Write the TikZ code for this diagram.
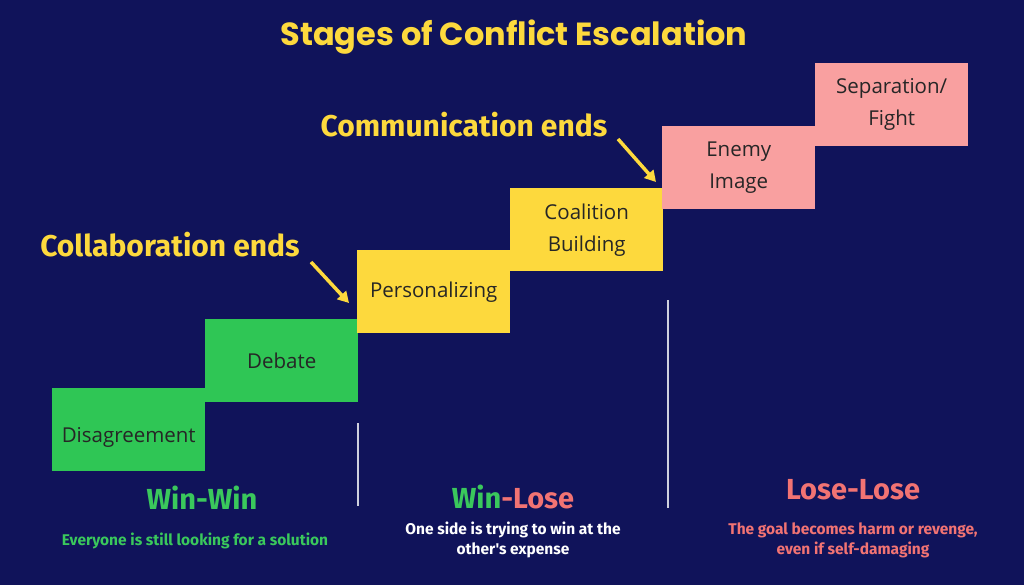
\documentclass[tikz,border=0pt]{standalone}
\usepackage{fontspec}
\setmainfont{Open Sans}
\newfontfamily\titlefont{Poppins}
\newfontfamily\headfont{Fira Sans}
\usetikzlibrary{arrows.meta,positioning}
\definecolor{navy}{HTML}{10135A}
\definecolor{stgreen}{HTML}{2FC655}
\definecolor{styellow}{HTML}{FDD93D}
\definecolor{stpink}{HTML}{F9A0A0}
\definecolor{txtgreen}{HTML}{3AC85C}
\definecolor{txtpink}{HTML}{F27373}
\tikzset{
  stage/.style={anchor=north west,minimum width=153pt,minimum height=83pt,inner sep=0pt,
    align=center,font=\fontsize{20.5}{32}\selectfont,text=black!85},
  headline/.style={font=\headfont\bfseries\fontsize{30}{32}\selectfont,text=styellow},
  outcome/.style={font=\headfont\bfseries\fontsize{29}{30}\selectfont},
  note/.style={font=\headfont\bfseries\fontsize{15.5}{20}\selectfont,align=center},
  pointer/.style={styellow,line width=3.5pt,-{Triangle[length=11pt,width=12pt]}},
  divider/.style={white!80!navy,line width=1.2pt}
}
\begin{document}
\begin{tikzpicture}[x=1pt,y=-1pt]
  \fill[navy] (0,0) rectangle (1024,585);
  \useasboundingbox (0,0) rectangle (1024,585);

  % TITLE
  \node[font=\titlefont\bfseries\fontsize{32}{34}\selectfont,text=styellow] (title) at (514,37) {Stages of Conflict Escalation};

  % STAGES
  \node[stage,fill=stgreen] (dis) at (52,388) {\\[-2pt]Disagreement};
  \node[stage,fill=stgreen] (deb) at (205,319) {Debate};
  \node[stage,fill=styellow] (per) at (357,250) {Personalizing};
  \node[stage,fill=styellow] (coa) at (510,188) {Coalition\\Building};
  \node[stage,fill=stpink] (ene) at (662,126) {Enemy\\Image};
  \node[stage,fill=stpink] (sep) at (815,63) {Separation/\\Fight};

  % TURNING POINTS
  \node[headline] (collab) at (170,245) {Collaboration ends};
  \node[headline] (commun) at (464,125) {Communication ends};
  \coordinate (collabtip) at (349,303);
  \coordinate (communtip) at (656,182);
  \draw[pointer] (311,262) -- (collabtip);
  \draw[pointer] (618,139) -- (communtip);

  % DIVIDERS
  \coordinate (d1) at (358,423);
  \coordinate (d2) at (668,300);
  \draw[divider] (d1) -- ++(0,83);
  \draw[divider] (d2) -- ++(0,208);

  % OUTCOMES
  \node[outcome,text=txtgreen] (winwin) at (202,498) {Win-Win};
  \node[note,text=txtgreen] (winwinnote) at (195,541) {Everyone is still looking for a solution};
  \node[outcome] (winlose) at (513,497) {\textcolor{txtgreen}{Win}\textcolor{txtpink}{-Lose}};
  \node[note,text=white] (winlosenote) at (513,540) {One side is trying to win at the\\other's expense};
  \node[outcome,text=txtpink] (loselose) at (853,490) {Lose-Lose};
  \node[note,text=txtpink] (loselosenote) at (853,540) {The goal becomes harm or revenge,\\even if self-damaging};
\end{tikzpicture}
\end{document}
